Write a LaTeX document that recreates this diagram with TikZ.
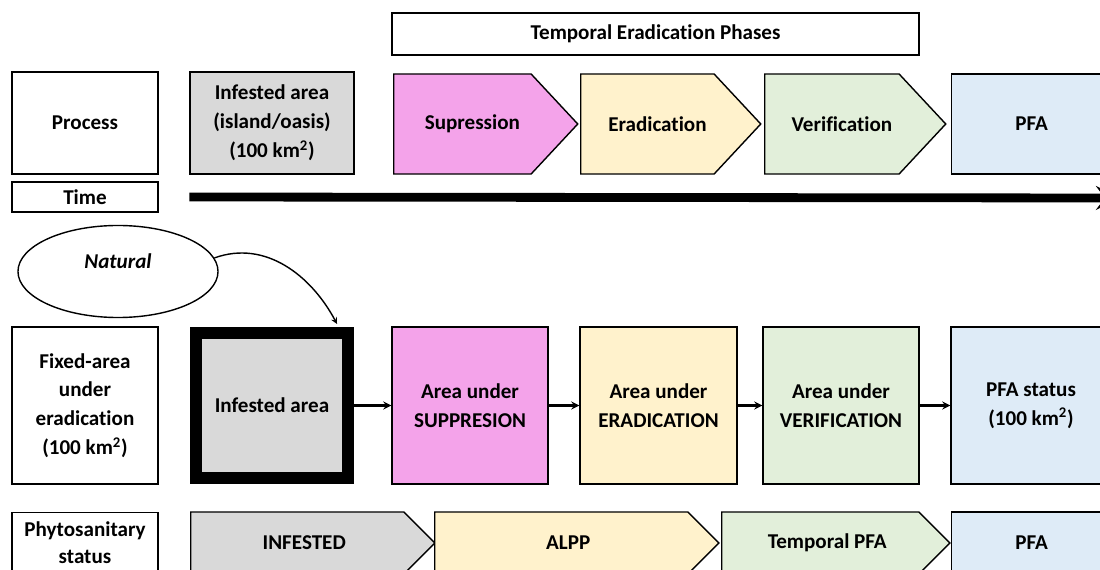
\documentclass[tikz,border=0pt]{standalone}
\usepackage{fontspec}
\setmainfont[Ligatures={NoCommon,NoContextual}]{Carlito}
\usepackage{tikz}
\usetikzlibrary{shapes.geometric, shapes.symbols, arrows, positioning, calc}
\definecolor{infgray}{RGB}{217, 217, 217}
\definecolor{supppink}{RGB}{244, 163, 234}
\definecolor{eradcream}{RGB}{255, 242, 204}
\definecolor{verifgreen}{RGB}{226, 239, 218}
\definecolor{pfablue}{RGB}{222, 235, 247}

\begin{document}
\begin{tikzpicture}[
    x=0.025cm, y=-0.025cm,
    every node/.style={font=\fontsize{15}{20.5}\selectfont\bfseries},
    box/.style={rectangle, draw, line width=1pt, align=center},
    lbl/.style={box, minimum width=3.65cm},
    phase/.style={signal, signal to=east, signal pointer angle=94, draw, line width=1pt, minimum height=2.5cm, anchor=west, execute at begin node={\hspace*{0.5cm}}},
    area/.style={box, minimum height=3.925cm},
    status/.style={signal, signal to=east, signal pointer angle=90, draw, line width=1pt, minimum height=1.55cm, anchor=west, execute at begin node={\hspace*{0.35cm}}},
    arrow/.style={->, line width=1.5pt, >=stealth},
    tarrow/.style={->, line width=0.22cm, >=stealth},
    narrow/.style={->, line width=1pt, >=stealth}
]
    \useasboundingbox (0,0) rectangle (1100,570);
    \clip (0,0) rectangle (1100,570);

    % Row labels
    \node[lbl, minimum height=2.55cm] (process) at (85,123) {Process};
    \node[lbl, minimum height=0.75cm] (time) at (85,197) {Time};
    \node[lbl, minimum height=3.925cm] (fixed) at (85,405.5) {Fixed-area\\under\\eradication\\(100 km\textsuperscript{2})};
    \node[lbl, minimum height=1.5cm, anchor=north, font=\fontsize{15}{19}\selectfont\bfseries] (phyto) at (85,512) {Phytosanitary\\status};

    % Process row
    \node[box, minimum width=13.175cm, minimum height=1.05cm] (title) at (655.5,34) {Temporal Eradication Phases};
    \node[box, fill=infgray, minimum width=4.1cm, minimum height=2.55cm] (island) at (272,123) {Infested area\\(island/oasis)\\(100 km\textsuperscript{2})};
    \node[phase, fill=supppink, minimum width=4.6cm] (supr) at (393,124) {Supression};
    \node[phase, fill=eradcream, minimum width=4.5cm] (erad) at (580,124) {Eradication};
    \node[phase, fill=verifgreen, minimum width=4.525cm] (verif) at (764,124) {Verification};
    \node[box, fill=pfablue, minimum width=4cm, minimum height=2.5cm, anchor=west] (pfa) at (951,124) {PFA};

    % Time arrow
    \coordinate (tstart) at (island.south west |- time.east);
    \coordinate (tend) at (1120,198);
    \draw[tarrow] (tstart) -- (tend);

    % Fixed-area row
    \node[ellipse, draw, line width=1pt, minimum width=5cm, minimum height=2.3cm, text depth=0.5cm, font=\fontsize{15}{20.5}\selectfont\bfseries\itshape] (natural) at (118,271.5) {Natural};
    \node[rectangle, draw, line width=0.3cm, fill=infgray, minimum width=3.8cm, minimum height=3.625cm] (infested) at (272,405.5) {Infested area};
    \node[area, fill=supppink, minimum width=3.9cm] (suparea) at (470,405.5) {Area under\\SUPPRESION};
    \node[area, fill=eradcream, minimum width=3.925cm] (eradarea) at (658.5,405.5) {Area under\\ERADICATION};
    \node[area, fill=verifgreen, minimum width=3.9cm] (verifarea) at (841,405.5) {Area under\\VERIFICATION};
    \node[area, fill=pfablue, minimum width=4cm] (pfaarea) at (1031,405.5) {PFA status\\(100 km\textsuperscript{2})};

    \coordinate (natend) at ($(infested.north east)+(-17,-3)$);
    \draw[narrow] (natural.8) to[out=20, in=118] (natend);

    \draw[arrow] (infested) -- (suparea);
    \draw[arrow] (suparea) -- (eradarea);
    \draw[arrow] (eradarea) -- (verifarea);
    \draw[arrow] (verifarea) -- (pfaarea);

    % Phytosanitary status row
    \node[status, fill=infgray, minimum width=6.1cm] (sinf) at (190,543) {INFESTED};
    \node[status, fill=eradcream, minimum width=7.1cm] (salpp) at (434,543) {ALPP};
    \node[status, fill=verifgreen, minimum width=5.7cm] (stpfa) at (721,543) {Temporal PFA};
    \node[box, fill=pfablue, minimum width=4cm, minimum height=1.55cm, anchor=west] (spfa) at (951,543) {PFA};

\end{tikzpicture}
\end{document}
